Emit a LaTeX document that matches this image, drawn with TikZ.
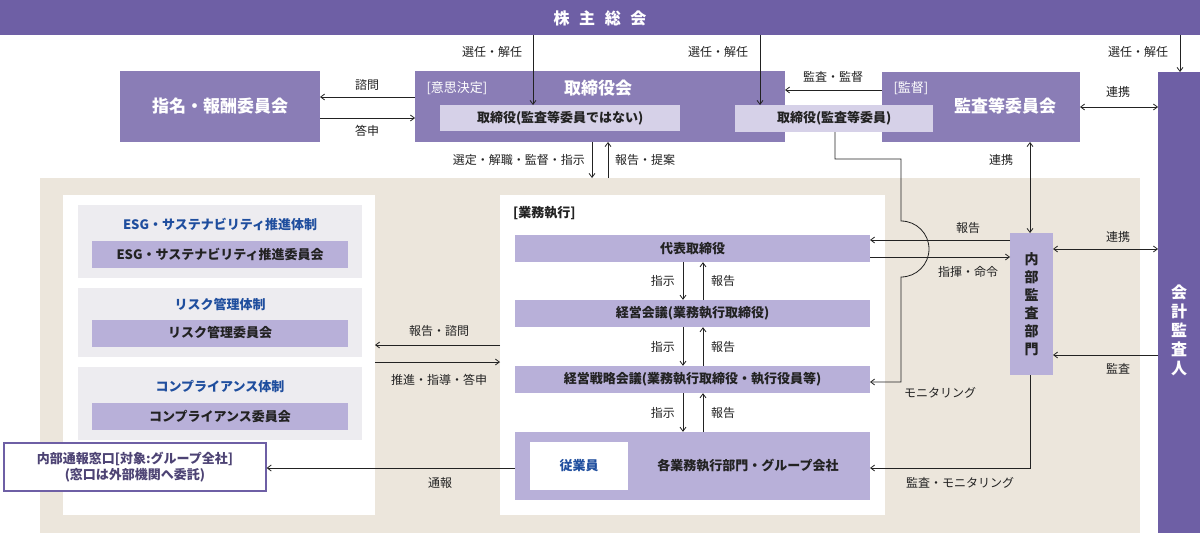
\documentclass[tikz,border=0pt]{standalone}
\usepackage{fontspec}
\setmainfont{Noto Sans CJK JP}
\usetikzlibrary{arrows.meta}
\definecolor{dk}{HTML}{6E5FA5}
\definecolor{md}{HTML}{8A7DB6}
\definecolor{lt}{HTML}{D6D1E8}
\definecolor{ex}{HTML}{B8B0D9}
\definecolor{bg}{HTML}{ECE6DC}
\definecolor{gp}{HTML}{EDECF0}
\definecolor{bl}{HTML}{1F4E9E}
\definecolor{tx}{HTML}{222222}
\begin{document}
\begin{tikzpicture}[x=1pt,y=-1pt,
 lbl/.style={font=\fontsize{12}{14}\selectfont,text=tx,inner sep=1pt},
 ar/.style={draw=tx,line width=0.8pt,-{Straight Barb[length=4pt,width=6pt]}},
 dar/.style={draw=tx,line width=0.8pt,{Straight Barb[length=4pt,width=6pt]}-{Straight Barb[length=4pt,width=6pt]}},
 big/.style={fill=md,text=white,font=\fontsize{17}{20}\selectfont\bfseries},
 ltb/.style={fill=lt,text=tx,font=\fontsize{13}{15}\selectfont\bfseries},
 exb/.style={fill=ex,text=tx,font=\fontsize{13}{15}\selectfont\bfseries},
 ttl/.style={text=bl,font=\fontsize{13}{15}\selectfont\bfseries}]
\useasboundingbox (0,0) rectangle (1200,533);
\fill[white] (0,0) rectangle (1200,533);
% top bar
\fill[dk] (0,0) rectangle (1200,35);
\node[text=white,font=\fontsize{16}{18}\selectfont\bfseries] (sh) at (600,18) {株\hspace{0.6em}主\hspace{0.6em}総\hspace{0.6em}会};
\coordinate (top) at (600,35);
% upper boxes
\node[big,minimum width=200,minimum height=71] (nom) at (220,106.5) {指名・報酬委員会};
\fill[md] (415,71) rectangle (785,142);
\node[inner sep=0] (bd) at (600,106.5) {};
\node[text=white,font=\fontsize{13}{15}\selectfont,anchor=west] (ish) at (423,88) {[意思決定]};
\node[text=white,font=\fontsize{17}{20}\selectfont\bfseries] (bdt) at (598,88) {取締役会};
\node[big,minimum width=198,minimum height=70,anchor=north west,inner sep=0] (ac) at (882,72) {};
\node[text=white,font=\fontsize{13}{15}\selectfont,anchor=west] (kan) at (890,88) {[監督]};
\node[text=white,font=\fontsize{17}{20}\selectfont\bfseries] (act) at (1005,106) {監査等委員会};
\node[ltb,minimum width=240,minimum height=26,anchor=north west,inner sep=0] (d1) at (440,105) {取締役(監査等委員ではない)};
\node[ltb,minimum width=198,minimum height=27,anchor=north west,inner sep=0] (d2) at (735,105) {取締役(監査等委員)};
% auditor
\fill[dk] (1158,72) rectangle (1200,533);
\node[text=white,font=\fontsize{16}{19}\selectfont\bfseries,align=center] (ca) at (1179,330) {会\\計\\監\\査\\人};
% beige
\fill[bg] (40,178) rectangle (1140,533);
% left panel
\fill[white] (63,195) rectangle (375,515);
\fill[gp] (78,205) rectangle (362,278);
\fill[gp] (78,288) rectangle (362,357);
\fill[gp] (78,367) rectangle (362,440);
\node[ttl] (t1) at (220,224) {ESG・サステナビリティ推進体制};
\node[exb,minimum width=256,minimum height=27] (b1) at (220,254) {ESG・サステナビリティ推進委員会};
\node[ttl] (t2) at (220,305) {リスク管理体制};
\node[exb,minimum width=256,minimum height=27] (b2) at (220,333) {リスク管理委員会};
\node[ttl] (t3) at (220,386) {コンプライアンス体制};
\node[exb,minimum width=256,minimum height=27] (b3) at (220,416) {コンプライアンス委員会};
\node[draw=dk,line width=1.2pt,fill=white,minimum width=262,minimum height=48,align=center,text=dk!70!black,font=\fontsize{13}{16}\selectfont\bfseries] (whb) at (135,467) {内部通報窓口[対象:グループ全社]\\(窓口は外部機関へ委託)};
% center panel
\fill[white] (500,195) rectangle (885,515);
\node[lbl,anchor=west,font=\fontsize{13}{15}\selectfont\bfseries] (gy) at (512,213) {[業務執行]};
\node[exb,minimum width=355,minimum height=27] (rep) at (692.5,248.5) {代表取締役};
\node[exb,minimum width=355,minimum height=27] (mgt) at (692.5,313.5) {経営会議(業務執行取締役)};
\node[exb,minimum width=355,minimum height=27] (stg) at (692.5,379.5) {経営戦略会議(業務執行取締役・執行役員等)};
\node[exb,minimum width=355,minimum height=68] (dep) at (692.5,466) {};
\node[exb,fill=none] (dept) at (748,466) {各業務執行部門・グループ会社};
\node[fill=white,minimum width=98,minimum height=48,text=bl,font=\fontsize{13}{15}\selectfont\bfseries] (emp) at (579,466) {従業員};
% internal audit
\node[exb,minimum width=43,minimum height=142,align=center,font=\fontsize{14}{18}\selectfont\bfseries] (ia) at (1031.5,304) {内\\部\\監\\査\\部\\門};
% arrows top
\draw[ar] (533,35) -- (533,105);
\node[lbl] at (492,52) {選任・解任};
\draw[ar] (760,35) -- (760,105);
\node[lbl] at (718,52) {選任・解任};
\draw[ar] (1180,35) -- (1180,72);
\node[lbl] at (1138,52) {選任・解任};
\draw[ar] (415,97) -- (320,97); \node[lbl] at (367,85) {諮問};
\draw[ar] (320,118) -- (415,118); \node[lbl] at (367,131) {答申};
\draw[ar] (882,90) -- (785,90); \node[lbl] at (833,77) {監査・監督};
\draw[dar] (1080,107) -- (1158,107); \node[lbl] at (1118,92) {連携};
\draw[ar] (592,142) -- (592,178); \node[lbl,anchor=east] at (586,160) {選定・解職・監督・指示};
\draw[ar] (608,178) -- (608,142); \node[lbl,anchor=west] at (614,160) {報告・提案};
% internal audit links
\draw[dar] (1030,142) -- (1030,233); \node[lbl] at (1001,160) {連携};
\draw[ar] (1010,240) -- (870,240); \node[lbl] at (968,228) {報告};
\draw[ar] (870,257) -- (1010,257); \node[lbl] at (968,272) {指揮・命令};
\draw[dar] (1053,249) -- (1158,249); \node[lbl] at (1118,237) {連携};
\draw[ar] (1158,355) -- (1053,355); \node[lbl] at (1118,369) {監査};
\draw[ar] (1030,375) -- (1030,468) -- (870,468); \node[lbl] at (960,483) {監査・モニタリング};
\draw[ar] (835,132) -- (835,159) -- (901,159) -- (901,221) arc[start angle=-90,end angle=90,radius=28] -- (901,382) -- (870,382);
\node[lbl] at (940,393) {モニタリング};
% exec arrows
\foreach \a/\b in {rep/mgt,mgt/stg,stg/dep}{
 \draw[ar] (\a.south -| 683,0) -- (\b.north -| 683,0);
 \draw[ar] (\b.north -| 703,0) -- (\a.south -| 703,0);
 \path (\a.south) -- (\b.north) coordinate[midway] (m\a);
 \node[lbl,anchor=east] at (m\a -| 676,0) {指示};
 \node[lbl,anchor=west] at (m\a -| 710,0) {報告};
}
% left arrows
\draw[ar] (500,345) -- (375,345); \node[lbl] at (439,331) {報告・諮問};
\draw[ar] (375,362) -- (500,362); \node[lbl] at (439,380) {推進・指導・答申};
\draw[ar] (515,468) -- (whb.east |- 0,468); \node[lbl] at (440,483) {通報};
\end{tikzpicture}
\end{document}
